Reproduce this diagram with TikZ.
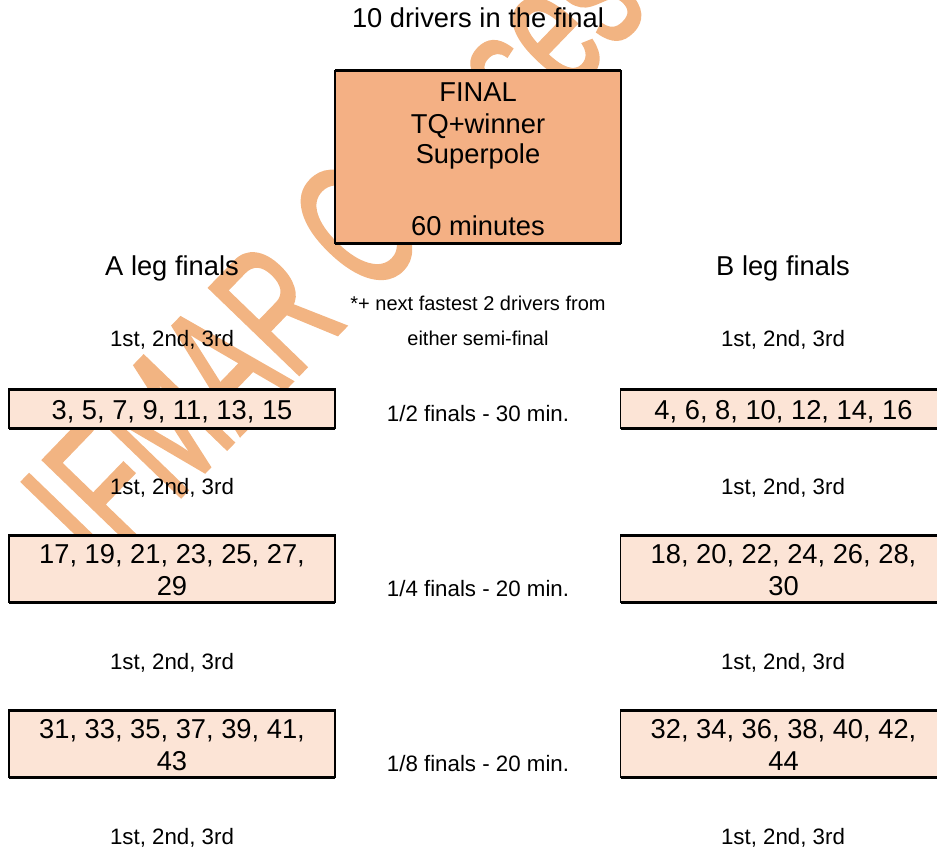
\documentclass[tikz,border=0pt]{standalone}
\usepackage{fontspec}
\setmainfont{Liberation Sans}
\newfontfamily\wmfont[FakeBold=2]{Liberation Sans}
\usepackage{tikz}
\definecolor{finalfill}{HTML}{F4B084}
\definecolor{legfill}{HTML}{FCE4D6}
\definecolor{wmark}{HTML}{F2B482}
\tikzset{
  finalbox/.style={draw, line width=1.8pt, fill=finalfill, minimum width=286pt, minimum height=172pt, inner sep=0pt, outer sep=0pt},
  legbox/.style={draw, line width=1.8pt, fill=legfill, minimum width=326pt, inner sep=0pt, outer sep=0pt},
  edge/.style={line width=3pt},
  bigtxt/.style={font=\fontsize{27.3}{31.7}\selectfont, anchor=base, inner sep=0pt},
  smalltxt/.style={font=\fontsize{22.3}{26}\selectfont, anchor=base, inner sep=0pt},
  tinytxt/.style={font=\fontsize{20}{24}\selectfont, anchor=base, inner sep=0pt}
}

\begin{document}
\begin{tikzpicture}[x=1pt, y=-1pt]
\useasboundingbox (0,0) rectangle (937,848);
\clip (0,0) rectangle (937,848);

% watermark
\node[text=wmark, font=\wmfont\fontsize{180}{180}\selectfont, rotate=46, xscale=0.63, anchor=base west, inner sep=0pt] (wm) at (104,576) {IFMAR Classes};

% boxes
\node[finalbox] (final) at (478,157) {};
\node[legbox, minimum height=39pt] (a1) at (172,408.5) {};
\node[legbox, minimum height=67pt] (a2) at (172,568.5) {};
\node[legbox, minimum height=67pt] (a3) at (172,743.5) {};
\node[legbox, minimum height=39pt] (b1) at (783.5,408.5) {};
\node[legbox, minimum height=67pt] (b2) at (783.5,568.5) {};
\node[legbox, minimum height=67pt] (b3) at (783.5,743.5) {};
\foreach \b in {final,a1,a2,a3,b1,b2,b3}
  \draw[edge] (\b.north west) -- (\b.north east) (\b.south west) -- (\b.south east);

% final
\node[bigtxt] (title) at (478,27.5) {10 drivers in the final};
\node[bigtxt] (fin1) at (478,101.7) {FINAL};
\node[bigtxt] (fin2) at (478,133.3) {TQ+winner};
\node[bigtxt] (fin3) at (478,163.5) {Superpole};
\node[bigtxt] (fin4) at (478,235) {60 minutes};

\node[bigtxt] (aleg) at (172,275.5) {A leg finals};
\node[bigtxt] (bleg) at (783,275.5) {B leg finals};
\node[tinytxt] (note1) at (478,310.7) {*+ next fastest 2 drivers from};
\node[tinytxt] (note2) at (478,345.7) {either semi-final};

% places
\foreach \y [count=\i] in {346,494,669,844} {
  \node[smalltxt] (aplc\i) at (172,\y) {1st, 2nd, 3rd};
  \node[smalltxt] (bplc\i) at (783,\y) {1st, 2nd, 3rd};
}

% rounds
\node[smalltxt] (semi) at (478,421) {1/2 finals - 30 min.};
\node[smalltxt] (quarter) at (478,596) {1/4 finals - 20 min.};
\node[smalltxt] (eighth) at (478,771) {1/8 finals - 20 min.};

\node[bigtxt] (a1t) at (172,419.3) {3, 5, 7, 9, 11, 13, 15};
\node[bigtxt] (b1t) at (783.5,419.3) {4, 6, 8, 10, 12, 14, 16};
\node[bigtxt] (a2t) at (172,563.3) {17, 19, 21, 23, 25, 27,};
\node[bigtxt] (a2u) at (172,595) {29};
\node[bigtxt] (b2t) at (783.5,563.3) {18, 20, 22, 24, 26, 28,};
\node[bigtxt] (b2u) at (783.5,595) {30};
\node[bigtxt] (a3t) at (172,738.3) {31, 33, 35, 37, 39, 41,};
\node[bigtxt] (a3u) at (172,770) {43};
\node[bigtxt] (b3t) at (783.5,738.3) {32, 34, 36, 38, 40, 42,};
\node[bigtxt] (b3u) at (783.5,770) {44};
\end{tikzpicture}
\end{document}
